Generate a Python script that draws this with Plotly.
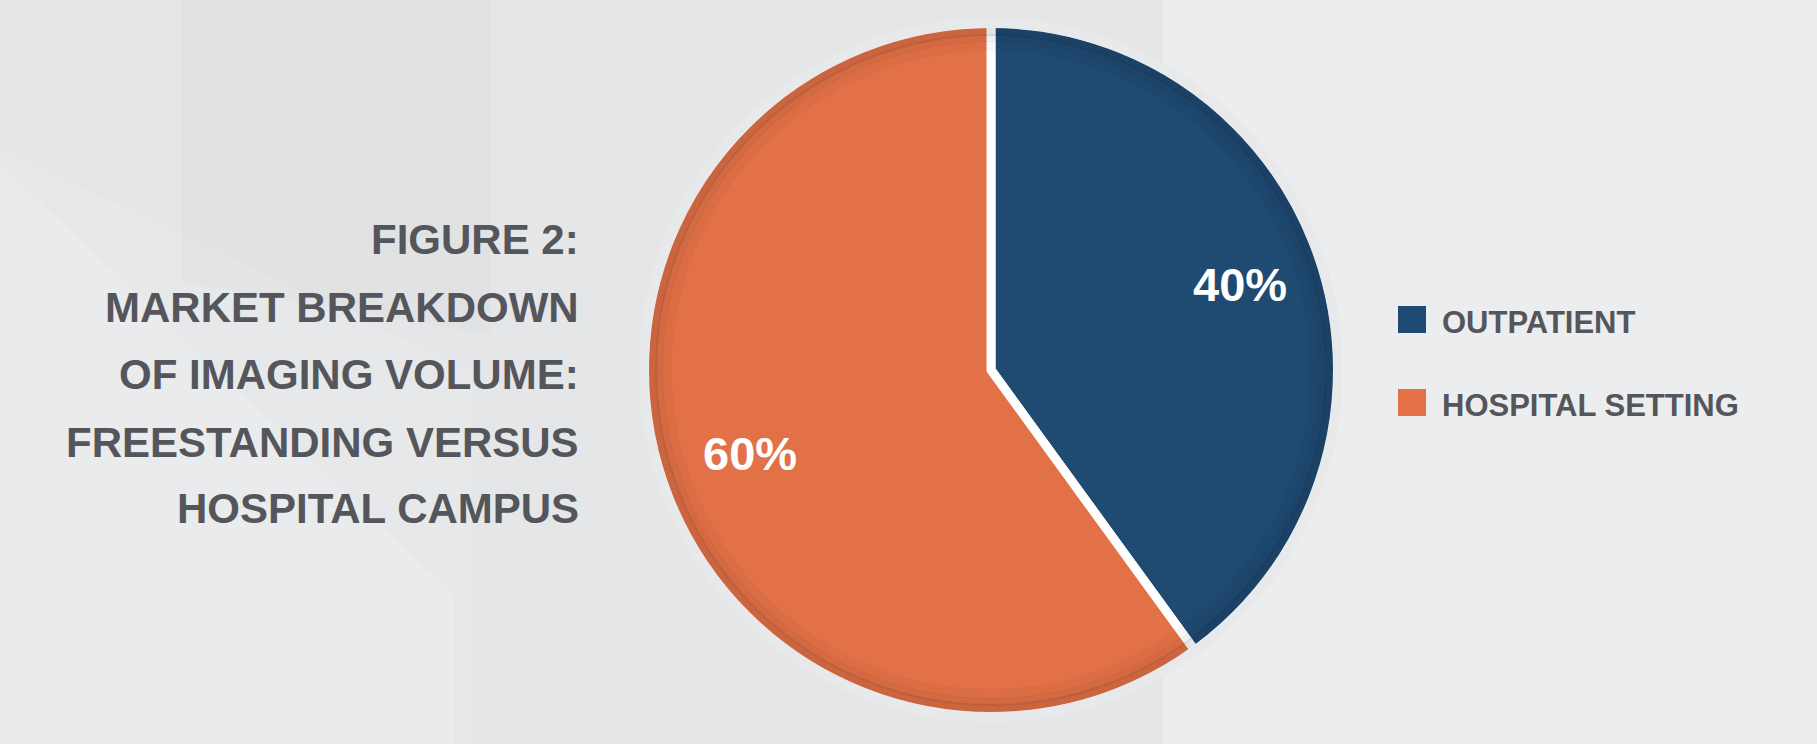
import plotly.graph_objects as go

labels = ["OUTPATIENT", "HOSPITAL SETTING"]
values = [40, 60]
colors = ["#1f4a72", "#e27147"]
title_lines = ["FIGURE 2:", "MARKET BREAKDOWN", "OF IMAGING VOLUME:",
               "FREESTANDING VERSUS", "HOSPITAL CAMPUS"]

W, H = 1817, 744
FONT = "Liberation Sans, Arial, sans-serif"
TXT = "#55565b"
BG = "#e4e6e7"

CX, CY, R = 991, 370, 342
RP = R + 5  # pie drawn slightly bigger; outer white stroke hidden by a ring

fig = go.Figure()
fig.add_trace(go.Pie(
    labels=labels, values=values, sort=False, direction="clockwise", rotation=0,
    marker=dict(colors=colors, line=dict(color="white", width=9)),
    textinfo="none", hoverinfo="label+percent", showlegend=False,
    domain=dict(x=[(CX - RP) / W, (CX + RP) / W],
                y=[1 - (CY + RP) / H, 1 - (CY - RP) / H]),
))

annotations = []
cap_centers = [239, 307, 374, 442, 509]
for line, cy in zip(title_lines, cap_centers):
    annotations.append(dict(
        text="<b>%s</b>" % line, x=581 / W, y=1 - cy / H, xref="paper", yref="paper",
        xanchor="right", yanchor="middle", showarrow=False,
        font=dict(family=FONT, size=42, color=TXT)))

total = sum(values)
pct_pos = [(1240, 284), (750, 453)]
for v, (px, py) in zip(values, pct_pos):
    annotations.append(dict(
        text="<b>%d%%</b>" % round(100 * v / total), x=px / W, y=1 - py / H,
        xref="paper", yref="paper", xanchor="center", yanchor="middle", showarrow=False,
        font=dict(family=FONT, size=47, color="white")))

shapes = []
bg = [
    ("M 0 0 L 0.26 0 L 0.26 0.50 L 0 0.80 Z", "rgba(255,255,255,0.10)"),
    ("M 0 0.78 L 0.25 0.20 L 0.25 0 L 0 0 Z", "rgba(255,255,255,0.14)"),
    ("M 0.64 0 L 1 0 L 1 1 L 0.64 1 Z", "rgba(255,255,255,0.30)"),
    ("M 0.1 1 L 0.27 1 L 0.27 0.55 L 0.1 0.62 Z", "rgba(0,0,0,0.015)"),
]
for p, c in bg:
    shapes.append(dict(type="path", path=p, xref="paper", yref="paper",
                       fillcolor=c, line=dict(width=0), layer="below"))


def circ(rad, color, width):
    return dict(type="circle", xref="paper", yref="paper",
                x0=(CX - rad) / W, x1=(CX + rad) / W,
                y0=1 - (CY + rad) / H, y1=1 - (CY - rad) / H,
                line=dict(color=color, width=width), layer="above")


# soft inner shading near the rim
for rad, col, wd in [(R - 18, "rgba(0,0,0,0.03)", 10), (R - 10, "rgba(0,0,0,0.06)", 8),
                     (R - 4, "rgba(0,0,0,0.10)", 8)]:
    shapes.append(circ(rad, col, wd))
# ring hiding the outer white stroke of the pie
shapes.append(circ(RP, "#e7e9ea", 10))

leg_sq = [319.5, 402.5]
leg_txt = [322.5, 406]
for lab, col, sy, ty in zip(labels, colors, leg_sq, leg_txt):
    shapes.append(dict(type="rect", xref="paper", yref="paper",
                       x0=1398 / W, x1=1426 / W, y0=1 - (sy + 13.5) / H, y1=1 - (sy - 13.5) / H,
                       fillcolor=col, line=dict(width=0)))
    annotations.append(dict(
        text="<b>%s</b>" % lab, x=1440 / W, y=1 - ty / H, xref="paper", yref="paper",
        xanchor="left", yanchor="middle", showarrow=False,
        font=dict(family=FONT, size=31, color=TXT)))

fig.update_layout(
    width=W, height=H, margin=dict(l=0, r=0, t=0, b=0),
    paper_bgcolor=BG, plot_bgcolor=BG,
    annotations=annotations, shapes=shapes,
)
fig.write_html("out.html", post_script="document.body.style.margin='0';",
               config={"displayModeBar": False})
